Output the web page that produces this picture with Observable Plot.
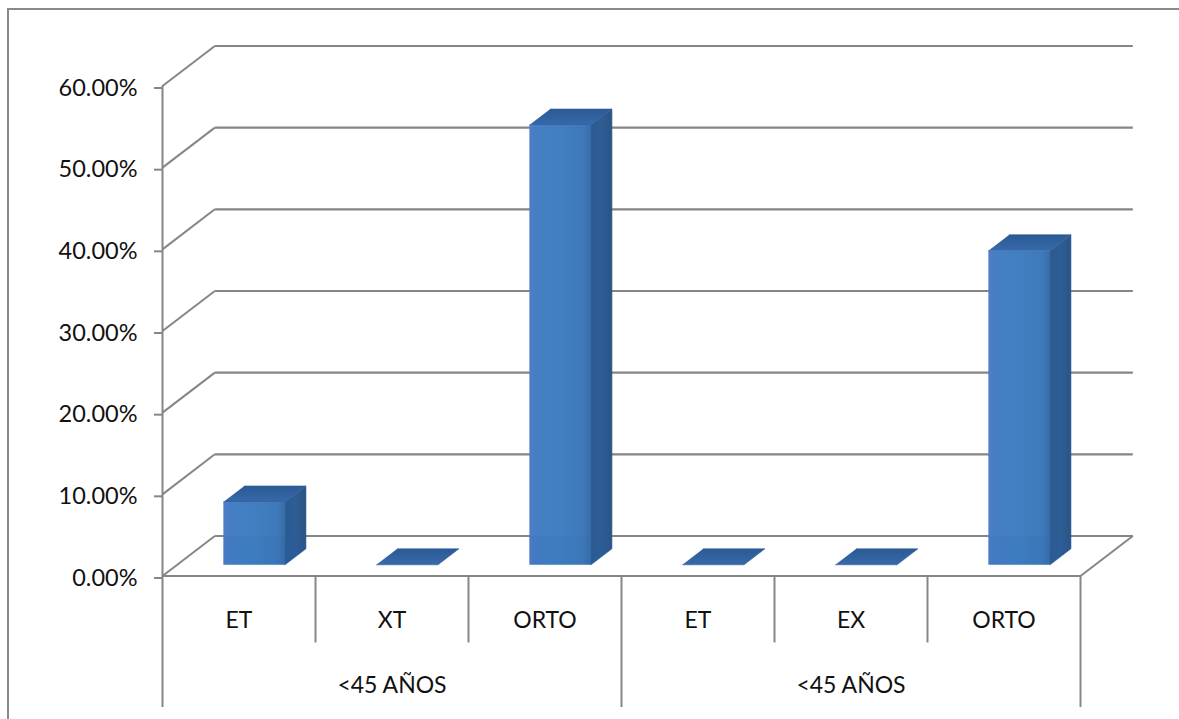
<!DOCTYPE html>
<html lang="es">
<head>
<meta charset="utf-8">
<script src="https://cdn.jsdelivr.net/npm/d3@7"></script>
<script src="https://cdn.jsdelivr.net/npm/@observablehq/plot@0.6"></script>
<style>
  html, body { margin: 0; padding: 0; background: #fff; overflow: hidden; }
  #chart { position: absolute; left: 0; top: 0; width: 1179px; height: 719px; }
  #chart svg { display: block; }
  /* Chart-area border: only the top and left edges stay in view */
  #border { position: absolute; left: 7px; top: 8px; right: 0; bottom: 0;
            border-left: 2px solid #8a8a8a; border-top: 2px solid #8a8a8a; pointer-events: none; }
</style>
</head>
<body>
<div id="chart"></div>
<div id="border"></div>
<script>
const categories = ["ET", "XT", "ORTO", "ET", "EX", "ORTO"];
const shares = [1 / 13, 0, 7 / 13, 0, 0, 5 / 13];
const groups = ["<45 AÑOS", "<45 AÑOS"];
const yTicks = [0, 0.1, 0.2, 0.3, 0.4, 0.5, 0.6];

// Oblique projection of the floor depth, in scale units (category steps and share)
const depthX = 0.342;
const depthY = 0.049;
const barStart = 0.302;
const barWidth = 0.403;
const barNear = 0.28;
const barFar = 0.68;
const labelDrop = -0.055;
const nameDrop = -0.082;
const groupDrop = -0.161;

const project = (x, y, depth) => ({ x: x + depth * depthX, y: y + depth * depthY });

// Three visible faces of each column, as closed outlines in data space
function faces(kind) {
  const out = [];
  shares.forEach((v, i) => {
    const x0 = i + barStart, x1 = x0 + barWidth;
    let corners;
    if (kind === "front") corners = [project(x0, 0, barNear), project(x1, 0, barNear), project(x1, v, barNear), project(x0, v, barNear)];
    if (kind === "side") corners = [project(x1, 0, barNear), project(x1, 0, barFar), project(x1, v, barFar), project(x1, v, barNear)];
    if (kind === "top") corners = [project(x0, v, barNear), project(x1, v, barNear), project(x1, v, barFar), project(x0, v, barFar)];
    if ((kind === "top") || v > 0) corners.forEach(c => out.push({ ...c, bar: i }));
  });
  return out;
}

// Tint on the part of each column that stands below the back edge of the floor
const floorBands = shares.flatMap((v, i) => {
  if (v <= 0) return [];
  const x0 = i + barStart, x1 = x0 + barWidth;
  return [
    project(x0, 0, barNear),
    project(x1, 0, barNear),
    project(x1, 0, barFar),
    { x: project(x1, 0, barFar).x, y: depthY },
    { x: project(x0, 0, barNear).x, y: depthY }
  ].map(c => ({ ...c, bar: i }));
});

// Shared gradient definitions for the column faces
function gradients() {
  const svg = d3.create("svg:g");
  const defs = svg.append("defs");
  const make = (id, stops, vertical) => {
    const g = defs.append("linearGradient").attr("id", id)
      .attr("x1", 0).attr("y1", 0).attr("x2", vertical ? 0 : 1).attr("y2", vertical ? 1 : 0);
    stops.forEach(([o, c]) => g.append("stop").attr("offset", o).attr("stop-color", c));
  };
  make("faceFront", [[0, "#527cc8"], [0.1, "#467ec4"], [0.5, "#417fc1"], [0.88, "#3f79ba"], [1, "#376ca6"]], false);
  make("faceSide", [[0, "#2b5b92"], [0.5, "#2f5d95"], [1, "#2b5486"]], false);
  make("faceTop", [[0, "#2b5a94"], [1, "#3769aa"]], true);
  return svg.node();
}

const gridBack = yTicks.map(v => ({ x1: depthX, x2: 6 + depthX, y: v + depthY }));
const gridSide = yTicks.map(v => ({ x1: 0, y1: v, x2: depthX, y2: v + depthY }));
const axisLines = [
  { x: 0, y1: 0.6, y2: groupDrop },
  { x: 1, y1: 0, y2: nameDrop },
  { x: 2, y1: 0, y2: nameDrop },
  { x: 3, y1: 0, y2: groupDrop },
  { x: 4, y1: 0, y2: nameDrop },
  { x: 5, y1: 0, y2: nameDrop },
  { x: 6, y1: 0, y2: groupDrop }
];

const grey = "#868686";
const font = "Lato, 'Open Sans', sans-serif";
const fontSize = 23;

const chart = Plot.plot({
  width: 1179,
  height: 719,
  marginLeft: 162,
  marginRight: 99,
  marginTop: 85.5,
  marginBottom: 143.5,
  style: { background: "#fff", fontFamily: font },
  x: { type: "linear", domain: [0, 6], axis: null },
  y: { domain: [0, 0.6], axis: null },
  marks: [
    gradients,
    Plot.link(gridBack, { x1: "x1", x2: "x2", y1: "y", y2: "y", stroke: grey, strokeWidth: 2.2 }),
    Plot.link(gridSide, { x1: "x1", y1: "y1", x2: "x2", y2: "y2", stroke: grey, strokeWidth: 2 }),
    Plot.link([{ x1: 6, y1: 0, x2: 6 + depthX, y2: depthY }], { x1: "x1", y1: "y1", x2: "x2", y2: "y2", stroke: grey, strokeWidth: 2 }),
    Plot.link([{ x1: 0, x2: 6, y: 0 }], { x1: "x1", x2: "x2", y1: "y", y2: "y", stroke: grey, strokeWidth: 2.2 }),
    Plot.ruleX(axisLines, { x: "x", y1: "y1", y2: "y2", stroke: grey, strokeWidth: 2 }),
    Plot.axisY({
      ticks: yTicks,
      tickFormat: d3.format(".2%"),
      tickSize: 8,
      tickPadding: 17,
      label: null,
      stroke: grey,
      strokeWidth: 2,
      fill: "#111",
      fontSize: 23.5,
      dy: 2
    }),
    Plot.line(faces("side"), { x: "x", y: "y", z: "bar", fill: "url(#faceSide)", stroke: "#2c5a90", strokeWidth: 0.6 }),
    Plot.line(faces("top"), { x: "x", y: "y", z: "bar", fill: "url(#faceTop)", stroke: "#2f5f9c", strokeWidth: 0.6 }),
    Plot.line(faces("front"), { x: "x", y: "y", z: "bar", fill: "url(#faceFront)", stroke: "none" }),
    Plot.line(floorBands, { x: "x", y: "y", z: "bar", fill: "#1f5fb0", fillOpacity: 0.1, stroke: "none" }),
    Plot.text(categories, {
      x: (d, i) => i + 0.5,
      y: () => labelDrop,
      text: d => d,
      fill: "#111",
      fontSize
    }),
    Plot.text(groups, {
      x: (d, i) => 3 * i + 1.5,
      y: () => -0.134,
      text: d => d,
      fill: "#111",
      fontSize
    })
  ]
});

document.getElementById("chart").append(chart);
</script>
</body>
</html>
